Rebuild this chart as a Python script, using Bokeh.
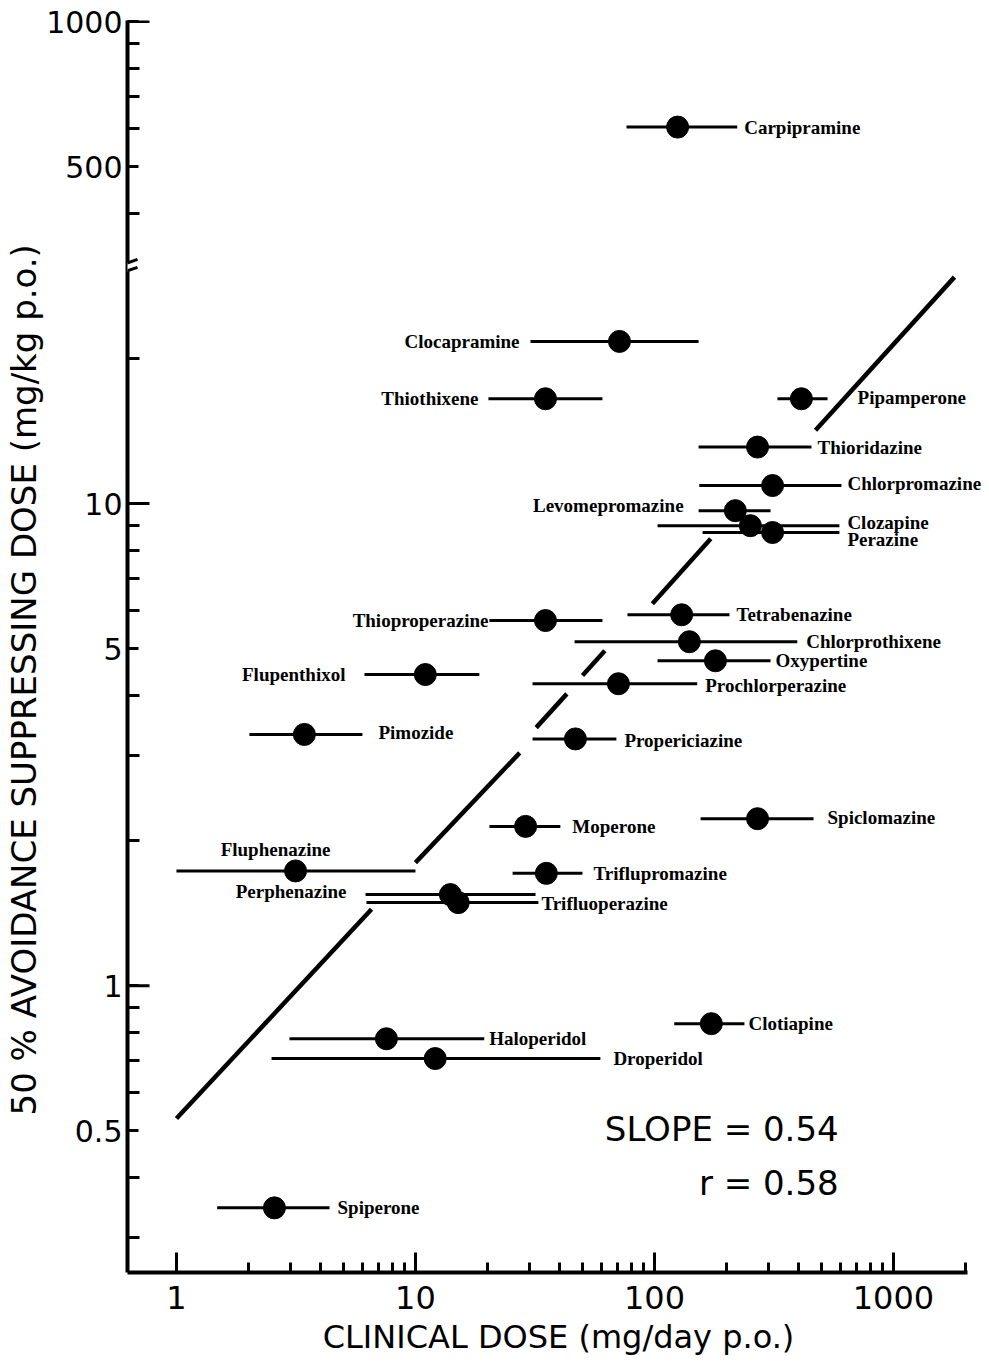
import numpy as np
from bokeh.plotting import figure
from bokeh.models import ColumnDataSource, FixedTicker, Label, LabelSet, Arrow, Range1d, Title
from bokeh.core.properties import value
from bokeh.embed import file_html
from bokeh.resources import INLINE

# ---------------- data ----------------
drugs = ["Carpipramine", "Clocapramine", "Thiothixene", "Pipamperone", "Thioridazine",
         "Chlorpromazine", "Levomepromazine", "Clozapine", "Perazine", "Tetrabenazine",
         "Thioproperazine", "Chlorprothixene", "Oxypertine", "Flupenthixol", "Prochlorperazine",
         "Pimozide", "Propericiazine", "Spiclomazine", "Moperone", "Fluphenazine",
         "Triflupromazine", "Perphenazine", "Trifluoperazine", "Clotiapine", "Haloperidol",
         "Droperidol", "Spiperone"]
# clinical dose, mg/day p.o. (point, range low, range high)
clin_dose = [125, 71.4, 35.0, 412, 270, 312, 218, 252, 312, 130,
             35.0, 140, 180, 11.0, 70.7, 3.43, 46.7, 270, 28.9, 3.15,
             35.3, 14.0, 15.1, 173, 7.56, 12.1, 2.57]
clin_lo = [76.4, 30.3, 20.2, 327, 153, 154, 153, 103, 159, 77.1,
           20.4, 46.3, 103, 6.12, 30.9, 2.02, 30.9, 156, 20.4, 1.0,
           25.5, 6.18, 6.24, 121, 2.97, 2.50, 1.48]
clin_hi = [222, 153, 60.6, 530, 454, 606, 306, 594, 594, 206,
           60.6, 396, 306, 18.5, 151, 6.0, 69.3, 463, 40.4, 10.0,
           50.0, 31.8, 32.7, 238, 19.4, 59.4, 4.37]
# 50 % avoidance suppressing dose, mg/kg p.o.
avoid_dose = [604, 21.7, 16.5, 16.5, 13.1, 10.9, 9.67, 9.0, 8.71, 5.88,
              5.72, 5.17, 4.72, 4.42, 4.23, 3.32, 3.25, 2.22, 2.14, 1.73,
              1.71, 1.545, 1.487, 0.834, 0.776, 0.706, 0.346]

# regression line, drawn in pieces (interrupted where it meets the bars)
reg_x0 = [1.0, 10.0, 32.0, 50.0, 98.0, 472.0]
reg_y0 = [0.53, 1.80, 3.43, 4.40, 6.20, 14.2]
reg_x1 = [6.55, 27.3, 43.0, 62.0, 172.0, 1800.0]
reg_y1 = [1.44, 3.04, 4.03, 4.95, 8.45, 29.5]

xtick_values = [1, 10, 100, 1000]
xtick_labels = ["1", "10", "100", "1000"]
xminor_values = [2, 3, 4, 5, 6, 7, 8, 9, 20, 30, 40, 50, 60, 70, 80, 90,
                 200, 300, 400, 500, 600, 700, 800, 900, 2000]
ytick_values = [0.5, 1, 5, 10, 500, 1000]
ytick_labels = ["0.5", "1", "5", "10", "500", "1000"]
yminor_values = [0.3, 0.4, 0.6, 0.7, 0.8, 0.9, 2, 3, 4, 6, 7, 8, 9, 20,
                 400, 600, 700, 800, 900]
ydecade_values = [1, 10, 1000]

slope_text = "SLOPE = 0.54"
r_text = "r = 0.58"
x_title = "CLINICAL DOSE (mg/day p.o.)"
y_title = "50 % AVOIDANCE SUPPRESSING DOSE (mg/kg p.o.)"

# ---------------- broken y axis: values above the break sit one decade lower ----------------
BREAK_AT = 100.0
BREAK_FACTOR = 10.0


def to_axis(v):
    v = np.asarray(v, dtype=float)
    return np.where(v > BREAK_AT, v / BREAK_FACTOR, v)


# ---------------- label placement (layout only) ----------------
label_side = ["R", "L", "L", "R", "R", "R", "L", "R", "R", "R",
              "L", "R", "R", "L", "R", "R", "R", "R", "R", "A",
              "R", "L", "R", "R", "R", "R", "R"]
label_dx = [7, 11, 10, 30, 6, 6, 15, 8, 8, 7,
            1, 9, 5, 19, 8, 16, 8, 14, 12, -20,
            11, 19, 3, 4, 5, 13, 8]
label_dy = [0, 0, 0, -1, 0, -2, -5, -3, 7, 0,
            0, 0, 0, 0, 2, -2, 2, -1, 0, -21,
            0, -3, 1, 0, 0, 0, 0]

side = np.array(label_side)
lx = np.where(side == "R", clin_hi, np.where(side == "L", clin_lo, clin_dose))
lalign = np.where(side == "R", "left", np.where(side == "L", "right", "center"))
loff = np.where(side == "L", -np.array(label_dx), np.array(label_dx))

src = ColumnDataSource(dict(
    drug=drugs, x=clin_dose, lo=clin_lo, hi=clin_hi, y=to_axis(avoid_dose),
    lx=lx, lalign=list(lalign), lxo=loff, lyo=-np.array(label_dy),
))

# ---------------- figure ----------------
X_START, X_AXIS_END, X_VIEW_END = 0.624, 2050, 2523
p = figure(width=989, height=1364, x_axis_type="log", y_axis_type="log",
           x_range=Range1d(X_START, X_VIEW_END), y_range=Range1d(0.2541, 100.5),
           output_backend="svg", toolbar_location=None,
           min_border_left=127, min_border_right=0, min_border_top=20, min_border_bottom=92)
p.outline_line_color = None
p.xgrid.visible = False
p.ygrid.visible = False
p.background_fill_color = "white"
p.border_fill_color = "white"

FONT = "DejaVu Sans"

# x axis (its line stops short of the frame's right edge, so long names fit)
xa = p.xaxis[0]
xa.bounds = (X_START, X_AXIS_END)
xa.ticker = FixedTicker(ticks=xtick_values, minor_ticks=xminor_values)
xa.major_label_overrides = {v: s for v, s in zip(xtick_values, xtick_labels)}
xa.axis_line_width = 4
xa.major_tick_in = 20
xa.major_tick_out = 0
xa.minor_tick_in = 10
xa.minor_tick_out = 0
xa.major_tick_line_width = 3
xa.minor_tick_line_width = 3
xa.major_label_text_font = FONT
xa.major_label_text_font_size = "32px"
xa.major_label_text_color = "black"
xa.major_label_standoff = 13
xa.axis_label = x_title
xa.axis_label_text_font = FONT
xa.axis_label_text_font_style = "normal"
xa.axis_label_text_font_size = "32px"
xa.axis_label_text_color = "black"
xa.axis_label_standoff = 6

# y axis
ya = p.yaxis[0]
y_axis_ticks = [float(v) for v in to_axis(ytick_values)]
ya.ticker = FixedTicker(ticks=y_axis_ticks, minor_ticks=[float(v) for v in to_axis(yminor_values)])
ya.major_label_overrides = {v: s for v, s in zip(y_axis_ticks, ytick_labels)}
ya.axis_line_width = 4
ya.major_tick_in = 11
ya.major_tick_out = 0
ya.minor_tick_in = 12
ya.minor_tick_out = 0
ya.major_tick_line_width = 3
ya.minor_tick_line_width = 3
ya.major_label_text_font = FONT
ya.major_label_text_font_size = "30px"
ya.major_label_text_color = "black"
ya.major_label_standoff = 5

# y axis title, started above the bottom as in the original
p.add_layout(Title(text=y_title, align="left", offset=157, standoff=0,
                   text_font=FONT, text_font_size="34px", text_font_style="normal",
                   text_color="black"), "left")

# longer inward ticks at the decades (half of the dash is clipped by the frame)
p.scatter(x=[X_START] * len(ydecade_values), y=to_axis(ydecade_values), marker="dash",
          size=44, line_width=3, line_color="black")

# axis break marks
p.add_layout(Arrow(end=None, x_start=X_START, y_start=30.3, x_end=X_START, y_end=31.6,
                   line_color="white", line_width=9))
p.add_layout(Arrow(end=None, x_start=0.572, y_start=30.0, x_end=0.687, y_end=30.9,
                   line_color="black", line_width=3))
p.add_layout(Arrow(end=None, x_start=0.572, y_start=31.1, x_end=0.687, y_end=32.1,
                   line_color="black", line_width=3))

# regression line
p.segment(x0=reg_x0, y0=reg_y0, x1=reg_x1, y1=reg_y1, line_width=4.5, line_color="black")

# ranges of clinical dose
p.segment(x0="lo", y0="y", x1="hi", y1="y", source=src, line_width=3, line_color="black")
# points
p.scatter(x="x", y="y", source=src, size=22, fill_color="black", line_color="black")
# drug names
p.add_layout(LabelSet(x="lx", y="y", text="drug", source=src, text_align="lalign",
                      x_offset="lxo", y_offset="lyo", text_baseline="middle",
                      text_font=value("Liberation Serif"), text_font_style="bold",
                      text_font_size="19px", text_color="black"))

# statistics
p.add_layout(Label(x=590, y=0.505, text=slope_text, text_align="right", text_baseline="middle",
                   text_font=FONT, text_font_size="34px", text_color="black"))
p.add_layout(Label(x=590, y=0.39, text=r_text, text_align="right", text_baseline="middle",
                   text_font=FONT, text_font_size="34px", text_color="black"))

open("out.html", "w").write(file_html(p, INLINE))
